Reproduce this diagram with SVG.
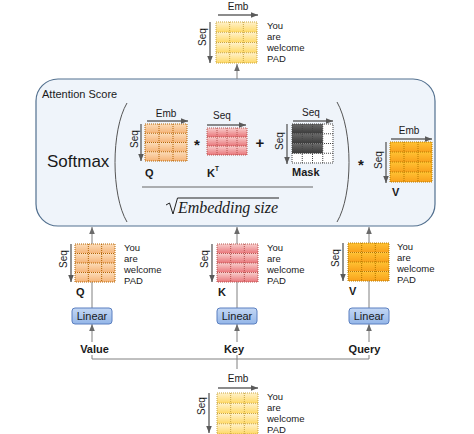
<svg xmlns="http://www.w3.org/2000/svg" width="474" height="434" viewBox="0 0 474 434">
<defs>
<style>
text{font-family:"Liberation Sans",Arial,sans-serif;fill:#1a1a1a}
.t{font-size:9.5px}
.d{font-size:10px}
.b{font-size:11px;font-weight:bold}
.ln{font-size:11px;fill:#1a1a1a}
.con{fill:none;stroke:#808080;stroke-width:1}
.dim{fill:none;stroke:#666;stroke-width:1.4}
.gy{fill:url(#gY)}.ly{fill:none;stroke:#c9a53f;stroke-width:1;stroke-dasharray:1 1}
.gp{fill:url(#gP)}.lp{fill:none;stroke:#b46504;stroke-width:1;stroke-dasharray:1 1}
.gk{fill:url(#gK)}.lk{fill:none;stroke:#b85450;stroke-width:1;stroke-dasharray:1 1}
.go{fill:url(#gO)}.lo{fill:none;stroke:#b57a00;stroke-width:1;stroke-dasharray:1 1}
.gd{fill:url(#gD)}.ld{fill:none;stroke:#444;stroke-width:1;stroke-dasharray:1 1}
.lin{fill:url(#gL);stroke:#5a7fc0;stroke-width:1}
</style>
<linearGradient id="gY" x1="0" y1="0" x2="0" y2="1"><stop offset="0" stop-color="#fff2cc"/><stop offset="1" stop-color="#ffd966"/></linearGradient>
<linearGradient id="gP" x1="0" y1="0" x2="0" y2="1"><stop offset="0" stop-color="#fcdcb8"/><stop offset="1" stop-color="#f5b377"/></linearGradient>
<linearGradient id="gK" x1="0" y1="0" x2="0" y2="1"><stop offset="0" stop-color="#f8cecc"/><stop offset="1" stop-color="#e9757a"/></linearGradient>
<linearGradient id="gO" x1="0" y1="0" x2="0" y2="1"><stop offset="0" stop-color="#ffc233"/><stop offset="1" stop-color="#f9a01b"/></linearGradient>
<linearGradient id="gD" x1="0" y1="0" x2="0" y2="1"><stop offset="0" stop-color="#6a6a6a"/><stop offset="1" stop-color="#3a3a3a"/></linearGradient>
<linearGradient id="gL" x1="0" y1="0" x2="0" y2="1"><stop offset="0" stop-color="#c3d7f4"/><stop offset="1" stop-color="#94b6e8"/></linearGradient>
<marker id="ah" viewBox="0 0 10 10" refX="10" refY="5" markerWidth="7" markerHeight="7" markerUnits="userSpaceOnUse" orient="auto"><path d="M0,1 L10,5 L0,9 z" fill="#6a6a6a"/></marker>
<marker id="dh" viewBox="0 0 10 10" refX="10" refY="5" markerWidth="7" markerHeight="7" markerUnits="userSpaceOnUse" orient="auto"><path d="M0,1 L10,5 L0,9 z" fill="#5a5a5a"/></marker>
</defs>
<rect width="474" height="434" fill="#ffffff"/>

<g id="attention-score">
<rect x="36" y="79" width="399" height="147" rx="22" fill="#eff4fa" stroke="#52708f" stroke-width="1.2"/>
<text x="42" y="98" style="font-size:11px">Attention Score</text>
<text x="47" y="167" style="font-size:17px">Softmax</text>
<path d="M127,103 C111,130 111,195 127,222" fill="none" stroke="#555" stroke-width="1"/>
<path d="M337,102 C353,130 353,195 337,222" fill="none" stroke="#555" stroke-width="1"/>
<line x1="142" y1="187" x2="313" y2="187" stroke="#666" stroke-width="1"/>
<path d="M166,205 L169.5,203 L173,214 L177.5,198 L279,198" fill="none" stroke="#222" stroke-width="1"/>
<text x="178" y="213" style="font-family:'Liberation Serif','Times New Roman',serif;font-style:italic;font-size:16px" textLength="100">Embedding size</text>
<text x="197" y="150" style="font-size:15px;font-weight:bold" text-anchor="middle">*</text>
<text x="260" y="148" style="font-size:15px;font-weight:bold" text-anchor="middle">+</text>
<text x="361" y="170" style="font-size:15px;font-weight:bold" text-anchor="middle">*</text>
</g>

<g id="q-attn">
<rect x="145" y="124" width="42" height="9.25" class="gp"/><rect x="145" y="133.25" width="42" height="9.25" class="gp"/><rect x="145" y="142.5" width="42" height="9.25" class="gp"/><rect x="145" y="151.75" width="42" height="9.25" class="gp"/>
<path class="lp" d="M145,124h42v37h-42z M159,124v37 M173,124v37 M145,133.25h42 M145,142.5h42 M145,151.75h42"/>
<text class="d" x="166" y="117" text-anchor="middle">Emb</text>
<line class="dim" x1="147" y1="121" x2="188" y2="121" marker-end="url(#dh)"/>
<line class="dim" x1="141" y1="124" x2="141" y2="161" marker-end="url(#dh)"/>
<text class="d" transform="translate(134,139) rotate(-90)" y="3.5" text-anchor="middle">Seq</text>
<text class="b" x="145" y="177">Q</text>
</g>

<g id="kt-attn">
<rect x="207" y="128" width="40" height="9" class="gk"/><rect x="207" y="137" width="40" height="9" class="gk"/><rect x="207" y="146" width="40" height="9" class="gk"/>
<path class="lk" d="M207,128h40v27h-40z M217,128v27 M227,128v27 M237,128v27 M207,137h40 M207,146h40"/>
<text class="d" x="222" y="119" text-anchor="middle">Seq</text>
<line class="dim" x1="207" y1="125" x2="246" y2="125" marker-end="url(#dh)"/>
<text class="b" x="207" y="177">K</text><text x="215" y="171" style="font-size:6.5px;font-weight:bold">T</text>
</g>

<g id="mask">
<rect x="292" y="124" width="41" height="39" fill="#ffffff"/>
<rect x="292" y="124" width="30.75" height="9.75" class="gd"/><rect x="292" y="133.75" width="30.75" height="9.75" class="gd"/><rect x="292" y="143.5" width="30.75" height="9.75" class="gd"/>
<path class="ld" d="M292,124h41v39h-41z M302.25,124v39 M312.5,124v39 M322.75,124v39 M292,133.75h41 M292,143.5h41 M292,153.25h41"/>
<text class="d" x="311" y="116" text-anchor="middle">Seq</text>
<line class="dim" x1="293" y1="121" x2="333" y2="121" marker-end="url(#dh)"/>
<line class="dim" x1="287" y1="124" x2="287" y2="164" marker-end="url(#dh)"/>
<text class="d" transform="translate(279,141) rotate(-90)" y="3.5" text-anchor="middle">Seq</text>
<text class="b" x="292" y="176">Mask</text>
</g>

<g id="v-attn">
<rect x="390" y="142" width="42" height="10" class="go"/><rect x="390" y="152" width="42" height="10" class="go"/><rect x="390" y="162" width="42" height="10" class="go"/><rect x="390" y="172" width="42" height="10" class="go"/>
<path class="lo" d="M390,142h42v40h-42z M404,142v40 M418,142v40 M390,152h42 M390,162h42 M390,172h42"/>
<text class="d" x="409" y="134" text-anchor="middle">Emb</text>
<line class="dim" x1="391" y1="139" x2="432" y2="139" marker-end="url(#dh)"/>
<line class="dim" x1="386" y1="142" x2="386" y2="183" marker-end="url(#dh)"/>
<text class="d" transform="translate(378,160) rotate(-90)" y="3.5" text-anchor="middle">Seq</text>
<text class="b" x="392" y="196">V</text>
</g>

<g id="output">
<rect x="216" y="22" width="41" height="10.25" class="gy"/><rect x="216" y="32.25" width="41" height="10.25" class="gy"/><rect x="216" y="42.5" width="41" height="10.25" class="gy"/><rect x="216" y="52.75" width="41" height="10.25" class="gy"/>
<path class="ly" d="M216,22h41v41h-41z M229.67,22v41 M243.33,22v41 M216,32.25h41 M216,42.5h41 M216,52.75h41"/>
<text class="d" x="238" y="10" text-anchor="middle">Emb</text>
<line class="dim" x1="218" y1="15" x2="258" y2="15" marker-end="url(#dh)"/>
<line class="dim" x1="210" y1="22" x2="210" y2="63" marker-end="url(#dh)"/>
<text class="d" transform="translate(202,37) rotate(-90)" y="3.5" text-anchor="middle">Seq</text>
<text class="t" x="267" y="28.5">You</text><text class="t" x="267" y="39.5">are</text><text class="t" x="267" y="50.5">welcome</text><text class="t" x="267" y="61.5">PAD</text>
</g>

<g id="input">
<rect x="217" y="393" width="41" height="10.25" class="gy"/><rect x="217" y="403.25" width="41" height="10.25" class="gy"/><rect x="217" y="413.5" width="41" height="10.25" class="gy"/><rect x="217" y="423.75" width="41" height="10.25" class="gy"/>
<path class="ly" d="M217,393h41v41h-41z M230.67,393v41 M244.33,393v41 M217,403.25h41 M217,413.5h41 M217,423.75h41"/>
<text class="d" x="238" y="382" text-anchor="middle">Emb</text>
<line class="dim" x1="218" y1="388" x2="258" y2="388" marker-end="url(#dh)"/>
<line class="dim" x1="209" y1="393" x2="209" y2="433" marker-end="url(#dh)"/>
<text class="d" transform="translate(201,406) rotate(-90)" y="3.5" text-anchor="middle">Seq</text>
<text class="t" x="267" y="399.5">You</text><text class="t" x="267" y="410.5">are</text><text class="t" x="267" y="421.5">welcome</text><text class="t" x="267" y="432.5">PAD</text>
</g>

<g id="connectors">
<line class="con" x1="237" y1="79" x2="237" y2="64" marker-end="url(#ah)"/>
<line class="con" x1="92" y1="308" x2="92" y2="227" marker-end="url(#ah)"/>
<line class="con" x1="237" y1="308" x2="237" y2="227" marker-end="url(#ah)"/>
<line class="con" x1="369" y1="308" x2="369" y2="227" marker-end="url(#ah)"/>
<line class="con" x1="92" y1="359" x2="92" y2="324" marker-end="url(#ah)"/>
<line class="con" x1="237" y1="359" x2="237" y2="324" marker-end="url(#ah)"/>
<line class="con" x1="369" y1="359" x2="369" y2="324" marker-end="url(#ah)"/>
<path class="con" d="M92,359 H369 M237,359 V369"/>
</g>

<g id="q-proj">
<rect x="75" y="244" width="40" height="9.5" class="gp"/><rect x="75" y="253.5" width="40" height="9.5" class="gp"/><rect x="75" y="263" width="40" height="9.5" class="gp"/><rect x="75" y="272.5" width="40" height="9.5" class="gp"/>
<path class="lp" d="M75,244h40v38h-40z M88.33,244v38 M101.67,244v38 M75,253.5h40 M75,263h40 M75,272.5h40"/>
<line class="dim" x1="71" y1="244" x2="71" y2="282" marker-end="url(#dh)"/>
<text class="d" transform="translate(63,259) rotate(-90)" y="3.5" text-anchor="middle">Seq</text>
<text class="t" x="124" y="250.5">You</text><text class="t" x="124" y="261.5">are</text><text class="t" x="124" y="272.5">welcome</text><text class="t" x="124" y="283.5">PAD</text>
<text class="b" x="76" y="296">Q</text>
</g>

<g id="k-proj">
<rect x="217" y="244" width="41" height="9.5" class="gk"/><rect x="217" y="253.5" width="41" height="9.5" class="gk"/><rect x="217" y="263" width="41" height="9.5" class="gk"/><rect x="217" y="272.5" width="41" height="9.5" class="gk"/>
<path class="lk" d="M217,244h41v38h-41z M230.67,244v38 M244.33,244v38 M217,253.5h41 M217,263h41 M217,272.5h41"/>
<line class="dim" x1="212" y1="244" x2="212" y2="282" marker-end="url(#dh)"/>
<text class="d" transform="translate(204,259) rotate(-90)" y="3.5" text-anchor="middle">Seq</text>
<text class="t" x="267" y="250.5">You</text><text class="t" x="267" y="261.5">are</text><text class="t" x="267" y="272.5">welcome</text><text class="t" x="267" y="283.5">PAD</text>
<text class="b" x="218" y="296">K</text>
</g>

<g id="v-proj">
<rect x="348" y="243" width="41" height="9.5" class="go"/><rect x="348" y="252.5" width="41" height="9.5" class="go"/><rect x="348" y="262" width="41" height="9.5" class="go"/><rect x="348" y="271.5" width="41" height="9.5" class="go"/>
<path class="lo" d="M348,243h41v38h-41z M361.67,243v38 M375.33,243v38 M348,252.5h41 M348,262h41 M348,271.5h41"/>
<line class="dim" x1="343" y1="243" x2="343" y2="281" marker-end="url(#dh)"/>
<text class="d" transform="translate(335,258) rotate(-90)" y="3.5" text-anchor="middle">Seq</text>
<text class="t" x="397" y="249.5">You</text><text class="t" x="397" y="260.5">are</text><text class="t" x="397" y="271.5">welcome</text><text class="t" x="397" y="282.5">PAD</text>
<text class="b" x="349" y="295">V</text>
</g>

<g id="linear-value">
<rect x="72" y="308" width="40" height="16" rx="3" class="lin"/>
<text class="ln" x="92" y="320" text-anchor="middle">Linear</text>
</g>
<g id="linear-key">
<rect x="217" y="308" width="40" height="16" rx="3" class="lin"/>
<text class="ln" x="237" y="320" text-anchor="middle">Linear</text>
</g>
<g id="linear-query">
<rect x="349" y="308" width="40" height="16" rx="3" class="lin"/>
<text class="ln" x="369" y="320" text-anchor="middle">Linear</text>
</g>

<g id="label-value"><rect x="80" y="342" width="29" height="13" fill="#ffffff"/><text class="b" x="94.5" y="353" text-anchor="middle">Value</text></g>
<g id="label-key"><rect x="223" y="342" width="22" height="13" fill="#ffffff"/><text class="b" x="234" y="353" text-anchor="middle">Key</text></g>
<g id="label-query"><rect x="347" y="342" width="35" height="13" fill="#ffffff"/><text class="b" x="364.5" y="353" text-anchor="middle">Query</text></g>
</svg>
